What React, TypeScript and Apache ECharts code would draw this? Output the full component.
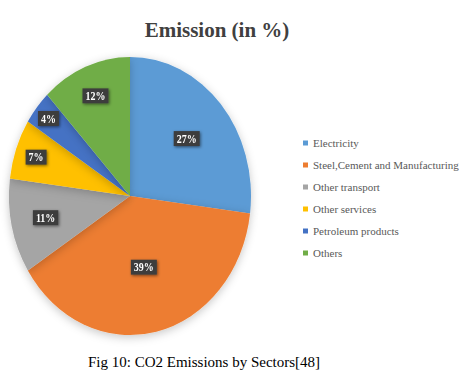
import React, { useEffect, useRef } from "react";
import * as echarts from "echarts";

const categories = [
  "Electricity",
  "Steel,Cement and Manufacturing",
  "Other transport",
  "Other services",
  "Petroleum products",
  "Others",
];
const values = [27, 39, 11, 7, 4, 12];
const colors = ["#5B9BD5", "#ED7D31", "#A5A5A5", "#FFC000", "#4472C4", "#70AD47"];
const labelRadiusFraction = [0.6, 0.5, 0.69, 0.8, 0.85, 0.75];

const titleText = "Emission (in %)";
const captionText = "Fig 10: CO2 Emissions by Sectors[48]";

const SERIF = "Liberation Serif, Times New Roman, serif";
const CX = 130;
const CY = 196;
const R = 121;
const STRETCH = 139 / 121;

export default function App() {
  const pieRef = useRef<HTMLDivElement>(null);
  const textRef = useRef<HTMLDivElement>(null);

  useEffect(() => {
    const total = values.reduce((a, b) => a + b, 0);
    const mids: number[] = [];
    let acc = 0;
    values.forEach((v) => {
      mids.push(((acc + v / 2) / total) * 2 * Math.PI);
      acc += v;
    });

    const data = categories.map((name, i) => ({
      name,
      value: values[i],
      itemStyle: { color: colors[i] },
    }));

    const pieChart = echarts.init(pieRef.current!, null, { renderer: "svg" });
    pieChart.setOption({
      animation: false,
      series: [
        {
          type: "pie",
          center: [CX, CY],
          radius: R,
          startAngle: 90,
          clockwise: true,
          avoidLabelOverlap: false,
          itemStyle: {
            borderWidth: 0,
            shadowBlur: 8,
            shadowColor: "rgba(0,0,0,0.22)",
            shadowOffsetY: 2,
          },
          emphasis: { disabled: true },
          label: {
            show: true,
            position: "inside",
            formatter: "{c}%",
            color: "#ffffff",
            fontFamily: SERIF,
            fontWeight: "bold",
            fontSize: 10,
            backgroundColor: "#3d3d3d",
            padding: [2, 3, 1, 3],
            shadowBlur: 3,
            shadowColor: "rgba(0,0,0,0.5)",
            shadowOffsetX: 1,
            shadowOffsetY: 1,
          },
          labelLine: { show: false },
          labelLayout: (params: any) => {
            const i = params.dataIndex;
            const k = (labelRadiusFraction[i] - 0.5) * R;
            return {
              dx: k * Math.sin(mids[i]),
              dy: -k * Math.cos(mids[i]),
            };
          },
          data,
        },
      ],
    });

    const textChart = echarts.init(textRef.current!, null, { renderer: "svg" });
    textChart.setOption({
      animation: false,
      title: {
        text: titleText,
        left: 217,
        textAlign: "center",
        top: 19,
        padding: 0,
        textStyle: {
          fontFamily: SERIF,
          fontWeight: "bold",
          fontSize: 21,
          color: "#404040",
        },
      },
      legend: {
        orient: "vertical",
        left: 303,
        top: 137,
        itemWidth: 5,
        itemHeight: 5,
        itemGap: 10,
        icon: "rect",
        padding: 0,
        selectedMode: false,
        data: categories,
        textStyle: {
          fontFamily: SERIF,
          fontSize: 11,
          lineHeight: 12,
          color: "#595959",
        },
      },
      graphic: [
        {
          type: "text",
          x: 204,
          y: 362,
          style: {
            text: captionText,
            fontFamily: SERIF,
            fontSize: 15,
            fill: "#000000",
            textAlign: "center",
            textVerticalAlign: "middle",
          },
        },
      ],
      series: [
        {
          type: "pie",
          center: [CX, CY],
          radius: 0,
          silent: true,
          label: { show: false },
          labelLine: { show: false },
          data,
        },
      ],
    });

    return () => {
      pieChart.dispose();
      textChart.dispose();
    };
  }, []);

  return (
    <div
      style={{
        position: "fixed",
        left: 0,
        top: 0,
        width: 472,
        height: 377,
        background: "#ffffff",
        overflow: "hidden",
      }}
    >
      <div
        ref={pieRef}
        style={{
          position: "absolute",
          left: 0,
          top: 0,
          width: 472,
          height: 377,
          transform: `scaleY(${STRETCH})`,
          transformOrigin: `0px ${CY}px`,
        }}
      />
      <div
        ref={textRef}
        style={{
          position: "absolute",
          left: 0,
          top: 0,
          width: 472,
          height: 377,
        }}
      />
    </div>
  );
}
